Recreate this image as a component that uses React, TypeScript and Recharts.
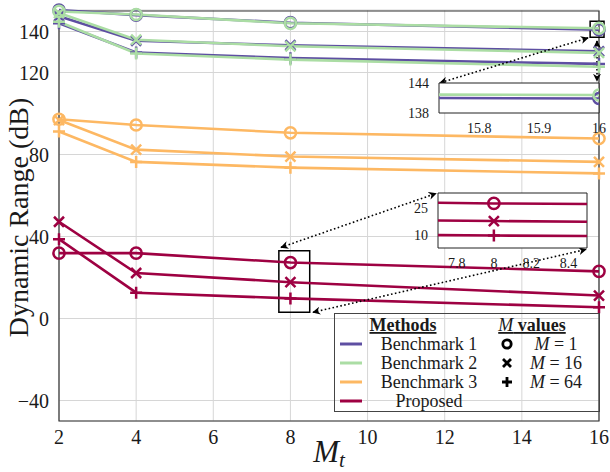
import React from 'react';
import { LineChart, Line, XAxis, YAxis, CartesianGrid, ReferenceArea, ReferenceLine } from 'recharts';

// x values (M_t)
const mtValues = [2, 4, 8, 16];

// Dynamic range (dB)
const bench1M1 = [150.5, 148, 144.3, 140.9];
const bench1M16 = [147.5, 135.5, 133.3, 130.3];
const bench1M64 = [144, 129.8, 127, 124.2];
const bench2M1 = [149.8, 148.3, 144, 141.6];
const bench2M16 = [149, 136, 132.8, 129.6];
const bench2M64 = [144.8, 129.3, 126.3, 122.8];
const bench3M1 = [97.2, 94.4, 90.6, 87.8];
const bench3M16 = [96.8, 82.4, 79, 76.4];
const bench3M64 = [91.2, 76.4, 73.6, 70.8];
const propM1 = [31.9, 31.9, 27.3, 23];
const propM16 = [47.2, 22.2, 17.7, 11.2];
const propM64 = [38.7, 12.6, 9.8, 5.5];

const xTicks = [2, 4, 6, 8, 10, 12, 14, 16];
const yTicks = [-40, 0, 40, 80, 120, 140];
const inset1XTicks = [15.8, 15.9, 16];
const inset1YTicks = [138, 144];
const inset2XTicks = [7.8, 8, 8.2, 8.4];
const inset2YTicks = [10, 25];

const mLabels = ['M = 1', 'M = 16', 'M = 64'];

const FONT = "'Liberation Serif', 'Times New Roman', serif";
const INK = '#1a1a1a';

type Marker = 'circle' | 'cross' | 'plus';
const markerOrder: Marker[] = ['circle', 'cross', 'plus'];

const methods = [
  { id: 'b1', name: 'Benchmark 1', color: '#5e4fa2', values: [bench1M1, bench1M16, bench1M64] },
  { id: 'b2', name: 'Benchmark 2', color: '#abdda4', values: [bench2M1, bench2M16, bench2M64] },
  { id: 'b3', name: 'Benchmark 3', color: '#fdb863', values: [bench3M1, bench3M16, bench3M64] },
  { id: 'pr', name: 'Proposed', color: '#9e0142', values: [propM1, propM16, propM64] },
];

const chartData = mtValues.map((mt, i) => {
  const row: any = { mt };
  methods.forEach(m => m.values.forEach((vals, j) => { row[`${m.id}_${j}`] = vals[i]; }));
  return row;
});

const series = methods.flatMap(m =>
  m.values.map((_, j) => ({ key: `${m.id}_${j}`, method: m.id, color: m.color, marker: markerOrder[j] }))
);

// zoom windows (data units)
const zoom1X = [15.733, 16];
const zoom1Y = [138, 144];
const zoom1Box = { x1: 15.77, x2: 16.13, y1: 137.2, y2: 145 };
const zoom2X = [7.7, 8.5];
const zoom2Y = [3, 33];

// dotted connector arrows in main-chart data units
const connectors = [
  [{ x: 15.715, y: 136.9 }, { x: 11.878, y: 115.0 }],
  [{ x: 15.948, y: 135.4 }, { x: 15.948, y: 115.9 }],
  [{ x: 7.756, y: 34.7 }, { x: 11.774, y: 61.0 }],
  [{ x: 8.585, y: 3.04 }, { x: 15.663, y: 33.7 }],
];

const drawMarker = (shape: Marker, x: number, y: number, color: string, k?: any, sw = 2.5) => {
  if (shape === 'circle') {
    return <circle key={k} cx={x} cy={y} r={5.6} fill="none" stroke={color} strokeWidth={sw} />;
  }
  if (shape === 'cross') {
    const d = 5;
    return <path key={k} d={`M${x - d},${y - d}L${x + d},${y + d}M${x - d},${y + d}L${x + d},${y - d}`} stroke={color} strokeWidth={sw} fill="none" />;
  }
  const d = 6;
  return <path key={k} d={`M${x - d},${y}L${x + d},${y}M${x},${y - d}L${x},${y + d}`} stroke={color} strokeWidth={sw} fill="none" />;
};

const dotFor = (shape: Marker, color: string) => (props: any) => {
  const { cx, cy, key } = props;
  if (cx == null || cy == null || isNaN(cx) || isNaN(cy)) return <g key={key} />;
  return drawMarker(shape, cx, cy, color, key);
};

const fmtTick = (v: number) => (v < 0 ? `\u2212${Math.abs(v)}` : `${v}`);

const XLabel = (props: any) => {
  const vb = props.viewBox || { x: 59, y: 421, width: 540, height: 51 };
  const cx = vb.x + vb.width / 2;
  return (
    <text x={cx} y={vb.y + 41} textAnchor="middle" fontFamily={FONT} fontSize={31} fill={INK}>
      <tspan fontStyle="italic">M</tspan>
      <tspan fontStyle="italic" fontSize={21} dy={5}>t</tspan>
    </text>
  );
};

const YLabel = (props: any) => {
  const vb = props.viewBox || { x: 0, y: 10, width: 59, height: 411 };
  const x = vb.x + 18;
  const cy = vb.y + vb.height / 2 + 2;
  return (
    <text x={x} y={cy} transform={`rotate(-90 ${x} ${cy})`} textAnchor="middle" dominantBaseline="central"
      fontFamily={FONT} fontSize={28} fill={INK}>
      Dynamic Range (dB)
    </text>
  );
};

const insetTick = { fontSize: 14, fill: INK, fontFamily: FONT };

const Inset = ({ left, top, plotW, plotH, xDomain, yDomain, xT, yT, ids }: any) => (
  <div style={{ position: 'absolute', left, top: top - 10 }}>
    <LineChart width={30 + plotW + 10} height={10 + plotH + 22} data={chartData} margin={{ top: 10, right: 10, bottom: 0, left: 0 }}>
      <CartesianGrid horizontal={false} vertical={false} fill="#fff" />
      <XAxis dataKey="mt" type="number" domain={xDomain} allowDataOverflow ticks={xT} height={22}
        axisLine={false} tickLine={false} tickMargin={4} tick={insetTick} interval={0} />
      <YAxis type="number" domain={yDomain} allowDataOverflow ticks={yT} width={30}
        axisLine={false} tickLine={false} tickMargin={4} tick={insetTick} interval={0} />
      {series.filter(s => ids.includes(s.key)).map(s => (
        <Line key={s.key} dataKey={s.key} stroke={s.color} strokeWidth={2.6} isAnimationActive={false}
          dot={dotFor(s.marker, s.color)} activeDot={false} />
      ))}
      <ReferenceArea x1={xDomain[0]} x2={xDomain[1]} y1={yDomain[0]} y2={yDomain[1]} fill="none" stroke="#222" strokeWidth={1} ifOverflow="visible" />
    </LineChart>
  </div>
);

const LegendBox = () => {
  const rows = [31, 50, 69, 88];
  return (
    <div style={{ position: 'absolute', left: 334, top: 313, width: 266, height: 99, border: '1px solid #444', boxSizing: 'border-box' }}>
      <svg width={266} height={99} style={{ position: 'absolute', left: -1, top: -1 }}>
        <text x={69} y={18} textAnchor="middle" fontFamily={FONT} fontSize={18} fontWeight="bold" fill={INK} textDecoration="underline">Methods</text>
        <text x={198} y={18} textAnchor="middle" fontFamily={FONT} fontSize={18} fill={INK} textDecoration="underline">
          <tspan fontStyle="italic">M</tspan><tspan fontWeight="bold"> values</tspan>
        </text>
        {methods.map((m, i) => (
          <g key={m.id}>
            <line x1={6} x2={28} y1={rows[i]} y2={rows[i]} stroke={m.color} strokeWidth={3} />
            <text x={95} y={rows[i] + 6} textAnchor="middle" fontFamily={FONT} fontSize={18} fill={INK}>{m.name}</text>
          </g>
        ))}
        {mLabels.map((lab, j) => {
          const [mm, rest] = [lab.slice(0, 1), lab.slice(1)];
          return (
            <g key={lab}>
              {markerOrder[j] === 'circle'
                ? <circle cx={173} cy={rows[j]} r={4.2} fill="none" stroke="#000" strokeWidth={2.8} />
                : markerOrder[j] === 'cross'
                  ? <path d={`M169,${rows[j] - 4}L177,${rows[j] + 4}M169,${rows[j] + 4}L177,${rows[j] - 4}`} stroke="#000" strokeWidth={2.8} />
                  : <path d={`M168,${rows[j]}L178,${rows[j]}M173,${rows[j] - 5}L173,${rows[j] + 5}`} stroke="#000" strokeWidth={2.8} />}
              <text x={222} y={rows[j] + 6} textAnchor="middle" fontFamily={FONT} fontSize={18} fill={INK}>
                <tspan fontStyle="italic">{mm}</tspan>{rest}
              </text>
            </g>
          );
        })}
      </svg>
    </div>
  );
};

export default function App() {
  return (
    <div style={{ position: 'absolute', left: 0, top: 0, width: 610, height: 472, background: '#fff' }}>
      <LineChart width={610} height={472} data={chartData} margin={{ top: 10, right: 11, bottom: 0, left: 0 }}>
        <defs>
          <marker id="arrowHead" viewBox="0 0 10 10" refX="9" refY="5" markerWidth="8" markerHeight="8"
            markerUnits="userSpaceOnUse" orient="auto-start-reverse">
            <path d="M0,0 L10,5 L0,10 L3,5 z" fill="#000" />
          </marker>
        </defs>
        <CartesianGrid stroke="#d6d6d6" strokeWidth={1} />
        <XAxis dataKey="mt" type="number" domain={[2, 16]} ticks={xTicks} height={51} interval={0}
          axisLine={false} tickLine={false} tickMargin={3}
          tick={{ fontSize: 20, fill: INK, fontFamily: FONT }} label={{ content: XLabel }} />
        <YAxis type="number" domain={[-50, 150]} ticks={yTicks} width={59} interval={0}
          axisLine={false} tickLine={false} tickMargin={4} tickFormatter={fmtTick}
          tick={{ fontSize: 20, fill: INK, fontFamily: FONT }} label={{ content: YLabel }} />
        {series.map(s => (
          <Line key={s.key} dataKey={s.key} stroke={s.color} strokeWidth={2.6} isAnimationActive={false}
            dot={dotFor(s.marker, s.color)} activeDot={false} />
        ))}
        <ReferenceArea x1={2} x2={16} y1={-50} y2={150} fill="none" stroke="#333" strokeWidth={1.2} />
        <ReferenceArea x1={zoom1Box.x1} x2={zoom1Box.x2} y1={zoom1Box.y1} y2={zoom1Box.y2} fill="none" stroke="#000" strokeWidth={1.5} ifOverflow="visible" />
        <ReferenceArea x1={zoom2X[0]} x2={zoom2X[1]} y1={zoom2Y[0]} y2={zoom2Y[1]} fill="none" stroke="#000" strokeWidth={1.5} ifOverflow="visible" />
        {connectors.map((seg, i) => (
          <ReferenceLine key={i} segment={seg} stroke="#000" strokeWidth={1.6} strokeDasharray="1.6 2.4"
            ifOverflow="visible" markerStart="url(#arrowHead)" markerEnd="url(#arrowHead)" />
        ))}
      </LineChart>
      <LegendBox />
      <Inset left={409} top={83} plotW={160} plotH={30} xDomain={zoom1X} yDomain={zoom1Y}
        xT={inset1XTicks} yT={inset1YTicks} ids={['b1_0', 'b2_0']} />
      <Inset left={408} top={193} plotW={149} plotH={55} xDomain={zoom2X} yDomain={zoom2Y}
        xT={inset2XTicks} yT={inset2YTicks} ids={['pr_0', 'pr_1', 'pr_2']} />
    </div>
  );
}
